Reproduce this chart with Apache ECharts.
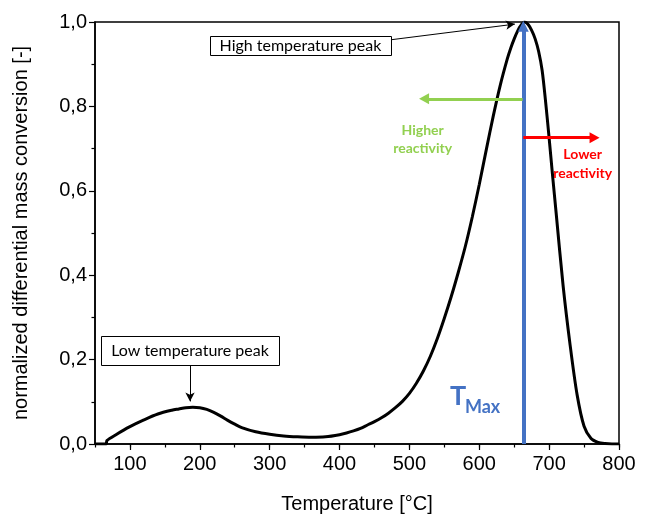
<!DOCTYPE html>
<html>
<head>
<meta charset="utf-8">
<script src="https://cdn.jsdelivr.net/npm/echarts@6/dist/echarts.min.js"></script>
<style>html,body{margin:0;padding:0;background:#fff}#c{width:650px;height:522px}</style>
</head>
<body>
<div id="c"></div>
<script>
// Temperature [°C]
const temps = [50, 66, 67, 80, 100, 120, 140, 160, 170, 180, 190, 200, 210, 220, 230, 240, 250, 260, 280, 300, 320, 340, 360, 380, 400, 410, 420, 430, 440, 450, 460, 470, 480, 490, 500, 510, 520, 530, 540, 550, 560, 570, 580, 590, 600, 610, 620, 630, 640, 645, 650, 655, 660, 665, 670, 675, 680, 685, 690, 695, 700, 705, 710, 720, 730, 740, 750, 760, 770, 780, 790, 800];
// normalized differential mass conversion [-]
const values = [0, 0, 0.008, 0.022, 0.041, 0.057, 0.071, 0.080, 0.083, 0.086, 0.087, 0.086, 0.082, 0.075, 0.066, 0.056, 0.047, 0.039, 0.029, 0.023, 0.019, 0.017, 0.016, 0.017, 0.022, 0.026, 0.031, 0.037, 0.045, 0.053, 0.062, 0.073, 0.086, 0.101, 0.120, 0.144, 0.173, 0.208, 0.250, 0.298, 0.350, 0.407, 0.468, 0.538, 0.615, 0.697, 0.777, 0.850, 0.912, 0.938, 0.960, 0.979, 0.993, 1.0, 0.994, 0.980, 0.960, 0.930, 0.885, 0.810, 0.725, 0.635, 0.548, 0.375, 0.235, 0.117, 0.042, 0.013, 0.004, 0.001, 0, 0];
const xMajorTicks = [100, 200, 300, 400, 500, 600, 700, 800];
const yTicks = [0, 0.2, 0.4, 0.6, 0.8, 1.0];
const tMax = 663;

const chart = echarts.init(document.getElementById('c'), null, {renderer: 'canvas'});
const axisFont = 'Liberation Sans, Arial, sans-serif';
const noteFont = 'Lato, Noto Sans, sans-serif';

const option = {
  animation: false,
  backgroundColor: '#fff',
  grid: {left: 95, right: 31, top: 22, bottom: 78, show: true, borderColor: '#000', borderWidth: 1.5, backgroundColor: 'transparent'},
  xAxis: [{
    type: 'value', min: 50, max: 800,
    name: 'Temperature [°C]', nameLocation: 'middle', nameGap: 50,
    nameTextStyle: {fontFamily: axisFont, fontSize: 20, color: '#000'},
    axisLine: {show: true, lineStyle: {color: '#000', width: 1.5}},
    axisTick: {show: true, customValues: xMajorTicks, length: 6, lineStyle: {color: '#000', width: 1.2}},
    axisLabel: {customValues: xMajorTicks, fontFamily: axisFont, fontSize: 20, color: '#000', margin: 10},
    splitLine: {show: false}
  }, {
    type: 'value', min: 50, max: 800, interval: 50, position: 'bottom',
    axisLine: {show: false},
    axisTick: {show: true, length: 3.5, lineStyle: {color: '#000', width: 1.2}},
    axisLabel: {show: false},
    splitLine: {show: false}
  }],
  yAxis: {
    type: 'value', min: 0, max: 1, interval: 0.2,
    name: 'normalized differential mass conversion [-]', nameLocation: 'middle', nameGap: 64,
    nameTextStyle: {fontFamily: axisFont, fontSize: 20, color: '#000'},
    axisLine: {show: true, lineStyle: {color: '#000', width: 1.5}},
    axisTick: {show: true, length: 6, lineStyle: {color: '#000', width: 1.2}},
    minorTick: {show: true, splitNumber: 2, length: 3.5, lineStyle: {color: '#000', width: 1.2}},
    axisLabel: {fontFamily: axisFont, fontSize: 20, color: '#000', margin: 8,
      formatter: v => v.toFixed(1).replace('.', ',')},
    splitLine: {show: false}
  },
  series: [{
    type: 'line', xAxisIndex: 0, yAxisIndex: 0,
    data: temps.map((t, i) => [t, values[i]]),
    smooth: 0.3, showSymbol: false,
    lineStyle: {color: '#000', width: 3},
    markLine: {
      silent: true, animation: false, label: {show: false},
      data: [
        [{coord: [tMax, 0], symbol: 'none', lineStyle: {color: '#4472c4', width: 4, type: 'solid'}},
         {coord: [tMax, 0.99], symbol: 'triangle', symbolSize: [11, 11]}],
        [{coord: [tMax - 1, 0.818], symbol: 'none', lineStyle: {color: '#92d050', width: 3, type: 'solid'}},
         {coord: [521, 0.818], symbol: 'triangle', symbolSize: [11, 10]}],
        [{coord: [tMax, 0.726], symbol: 'none', lineStyle: {color: '#ff0000', width: 3, type: 'solid'}},
         {coord: [765, 0.726], symbol: 'triangle', symbolSize: [11, 10]}],
        [{coord: [474, 0.958], symbol: 'none', lineStyle: {color: '#000', width: 1, type: 'solid'}},
         {coord: [651, 0.995], symbol: 'arrow', symbolSize: [7, 9]}],
        [{coord: [186, 0.187], symbol: 'none', lineStyle: {color: '#000', width: 1, type: 'solid'}},
         {coord: [186, 0.101], symbol: 'arrow', symbolSize: [7, 9]}]
      ]
    }
  }]
};
chart.setOption(option);

const P = (x, y) => chart.convertToPixel({xAxisIndex: 0, yAxisIndex: 0}, [x, y]);
const hb = P(344, 0.945), lb = P(186, 0.222);
const hr = P(519, 0.721), lr = P(748, 0.663), tm = P(558, 0.0);
function box(c, w, h, text) {
  return [
    {type: 'rect', shape: {x: Math.round(c[0] - w / 2) + 0.5, y: Math.round(c[1] - h / 2) + 0.5, width: w, height: h},
     style: {fill: '#fff', stroke: '#000', lineWidth: 1}, z: 10},
    {type: 'text', x: c[0], y: c[1] + 0.5, z: 11,
     style: {text: text, fontFamily: noteFont, fontSize: 16, fill: '#000', align: 'center', verticalAlign: 'middle'}}
  ];
}
chart.setOption({
  graphic: [
    ...box(hb, 181, 19, 'High temperature peak'),
    ...box(lb, 178, 29, 'Low temperature peak'),
    {type: 'text', x: hr[0], y: hr[1], z: 11,
     style: {text: 'Higher\nreactivity', fontFamily: noteFont, fontWeight: 'bold', fontSize: 14, lineHeight: 18,
             fill: '#92d050', align: 'center', verticalAlign: 'middle'}},
    {type: 'text', x: lr[0], y: lr[1], z: 11,
     style: {text: 'Lower\nreactivity', fontFamily: noteFont, fontWeight: 'bold', fontSize: 14, lineHeight: 19,
             fill: '#ff0000', align: 'center', verticalAlign: 'middle'}},
    {type: 'text', x: tm[0], y: 396, z: 11,
     style: {text: 'T', fontFamily: noteFont, fontWeight: 'bold', fontSize: 27, fill: '#4472c4', align: 'left', verticalAlign: 'middle'}},
    {type: 'text', x: tm[0] + 15, y: 407, z: 11,
     style: {text: 'Max', fontFamily: noteFont, fontWeight: 'bold', fontSize: 18, fill: '#4472c4', align: 'left', verticalAlign: 'middle'}}
  ]
});
</script>
</body>
</html>
